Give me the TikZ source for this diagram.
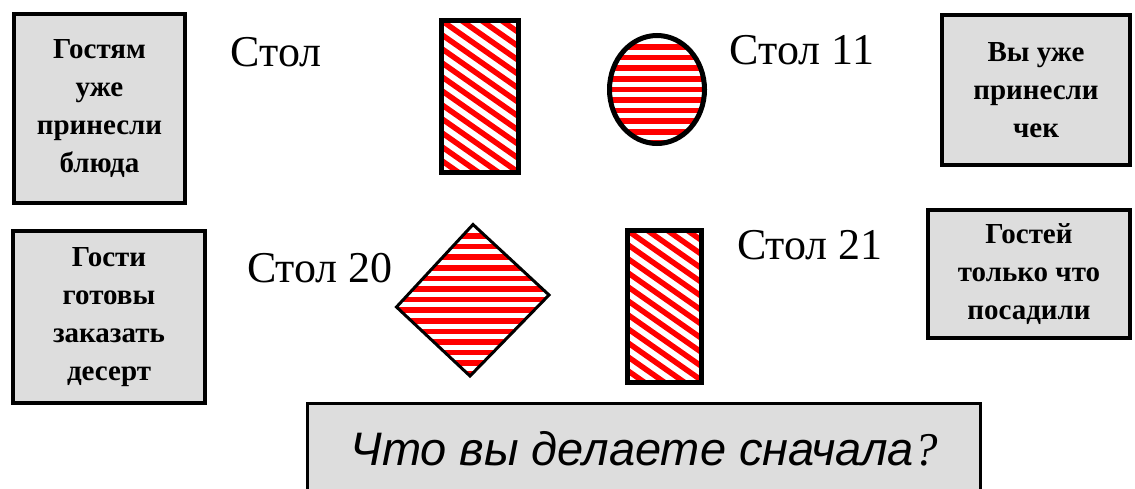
\documentclass[tikz,border=0pt]{standalone}
\usepackage{fontspec}
\setmainfont{Liberation Serif}
\setsansfont{Liberation Sans}
\usetikzlibrary{shapes.geometric}
\definecolor{cardgray}{HTML}{DDDDDD}
\tikzset{
  notecard/.style={draw, line width=4pt, fill=cardgray, align=center, inner sep=0pt,
    font=\bfseries\fontsize{29}{38}\selectfont},
  tablename/.style={inner sep=0pt, font=\fontsize{44}{44}\selectfont},
  hatchred/.style={red, line width=5.5pt},
  diagfill/.style={path picture={
    \foreach \k in {-12,...,5}
      \draw[hatchred] ([xshift=\k*20pt]path picture bounding box.north west) -- ++(300,210);
  }},
  rowfill/.style={path picture={
    \foreach \k in {0,...,15}
      \draw[hatchred] ([yshift=-\k*10.6pt-11.5pt]path picture bounding box.north west) -- ++(200,0);
  }},
  tablerect/.style={draw, line width=5pt, inner sep=0pt, diagfill}
}

\begin{document}
\begin{tikzpicture}[x=1pt, y=-1pt]
  \useasboundingbox (0,0) rectangle (1135,488);
  % status cards
  \node[notecard, minimum width=171pt, minimum height=189pt] (served) at (99.5,108.5) {Гостям\\уже\\принесли\\блюда};
  \node[notecard, minimum width=188pt, minimum height=150pt] (bill) at (1036,90) {Вы уже\\принесли\\чек};
  \node[notecard, minimum width=192pt, minimum height=172pt] (dessert) at (109,317) {Гости\\готовы\\заказать\\десерт};
  \node[notecard, minimum width=202pt, minimum height=128pt] (seated) at (1029,274) {Гостей\\только что\\посадили};
  % tables
  \node[tablerect, minimum width=77pt, minimum height=152pt] (tableA) at (480,96.5) {};
  \node[ellipse, draw, line width=5pt, inner sep=0pt, rowfill, minimum width=95pt, minimum height=108pt] (tableB) at (657,89.5) {};
  \node[tablerect, minimum width=74pt, minimum height=152pt] (tableD) at (664.5,306.5) {};
  \draw[line width=3pt, rowfill] (473,224.5) -- (549,295) -- (470,376) -- (396.5,307) -- cycle;
  % table names
  \node[tablename] (nameA) at (276,52) {Стол};
  \node[tablename] (nameB) at (802,50) {Стол 11};
  \node[tablename] (nameC) at (320,268) {Стол 20};
  \node[tablename] (nameD) at (810,245) {Стол 21};
  % question
  \node[draw, line width=3pt, fill=cardgray, minimum width=673pt, minimum height=92pt] (question) at (644,449)
    {\sffamily\itshape\fontsize{47}{47}\selectfont Что вы делаете сначала\rmfamily ?};
\end{tikzpicture}
\end{document}
